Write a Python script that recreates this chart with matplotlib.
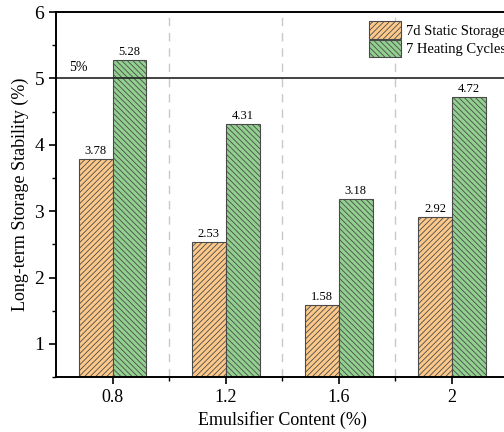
import matplotlib
matplotlib.use("Agg")
import matplotlib.pyplot as plt
import numpy as np

plt.rcParams['font.family'] = ['Liberation Serif', 'DejaVu Serif']
plt.rcParams['hatch.linewidth'] = 0.6

categories = ['0.8', '1.2', '1.6', '2']
static_storage = [3.78, 2.53, 1.58, 2.92]
heating_cycles = [5.28, 4.31, 3.18, 4.72]

x = np.arange(len(categories))
w = 0.3

fig = plt.figure(figsize=(5.04, 4.32), dpi=100)
ax = fig.add_axes([0.111, 0.127, 0.898, 0.845])

b1 = ax.bar(x - w / 2, static_storage, w, bottom=0, color='#fdc98a', edgecolor='#4a4a4a',
            linewidth=0.8, hatch='//////', label='7d Static Storage')
b2 = ax.bar(x + w / 2, heating_cycles, w, bottom=0, color='#92d08f', edgecolor='#4a4a4a',
            linewidth=0.8, hatch='\\\\\\\\\\\\', label='7 Heating Cycles')

for bars, vals in ((b1, static_storage), (b2, heating_cycles)):
    for r, v in zip(bars, vals):
        ax.text(r.get_x() + r.get_width() / 2, v + 0.03, f'{v:.2f}', ha='center', va='bottom',
                fontsize=9)

# separators between groups
for s in x[:-1] + 0.5:
    ax.axvline(s, color='#c8c8c8', linestyle=(0, (6, 5)), linewidth=1.0, zorder=0)

ax.axhline(5, color='#222222', linewidth=1.2)
ax.text(-0.38, 5.06, '5%', fontsize=10, ha='left', va='bottom')

ax.set_xlim(-0.5, 3.5)
ax.set_ylim(0.5, 6)
ax.set_xticks(x)
ax.set_xticklabels(categories, fontsize=13)
ax.set_xticks(x[:-1] + 0.5, minor=True)
ax.set_yticks([1, 2, 3, 4, 5, 6])
ax.set_yticks(np.arange(0.5, 6.01, 0.5), minor=True)
ax.tick_params(axis='y', labelsize=14)
ax.tick_params(which='major', direction='out', length=5, width=1.2)
ax.tick_params(which='minor', direction='out', length=3, width=1.0)

for sp in ax.spines.values():
    sp.set_linewidth(1.4)

ax.set_xlabel('Emulsifier Content (%)', fontsize=13)
ax.set_ylabel('Long-term Storage Stability (%)', fontsize=13)

ax.legend(loc='upper left', bbox_to_anchor=(0.67, 1.003), frameon=False, fontsize=10.5,
          handlelength=2.2, handleheight=1.45, handletextpad=0.3, labelspacing=0.1,
          borderpad=0.2)

fig.savefig('out.png', dpi=100)
